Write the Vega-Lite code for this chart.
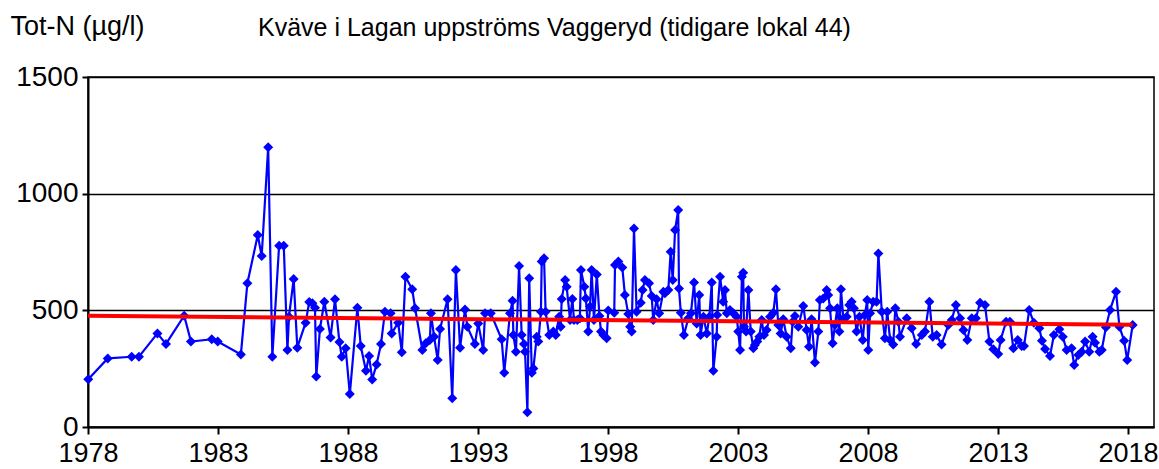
{
  "$schema": "https://vega.github.io/schema/vega-lite/v6.json",
  "autosize": "none",
  "width": 1066,
  "height": 350,
  "padding": {"left": 88, "top": 77, "right": 5, "bottom": 42},
  "background": "white",
  "config": {
    "font": "Liberation Sans",
    "view": {"stroke": "black", "strokeWidth": 1.5}
  },
  "title": {
    "text": "Kväve  i Lagan uppströms Vaggeryd (tidigare lokal 44)",
    "anchor": "start",
    "frame": "group",
    "dx": 170,
    "offset": -29,
    "fontSize": 25,
    "fontWeight": "normal",
    "color": "black",
    "font": "Liberation Sans"
  },
  "datasets": {
    "obs": [
      {"year": 1978.01, "n": 205}, {"year": 1978.76, "n": 294}, {"year": 1979.68, "n": 301}, {"year": 1979.96, "n": 301},
      {"year": 1980.67, "n": 401}, {"year": 1981.0, "n": 356}, {"year": 1981.7, "n": 477}, {"year": 1981.96, "n": 366},
      {"year": 1982.76, "n": 376}, {"year": 1982.99, "n": 366}, {"year": 1983.88, "n": 311}, {"year": 1984.13, "n": 616},
      {"year": 1984.53, "n": 823}, {"year": 1984.68, "n": 733}, {"year": 1984.93, "n": 1199}, {"year": 1985.09, "n": 301},
      {"year": 1985.35, "n": 777}, {"year": 1985.53, "n": 777}, {"year": 1985.67, "n": 330}, {"year": 1985.73, "n": 473},
      {"year": 1985.91, "n": 634}, {"year": 1986.05, "n": 340}, {"year": 1986.37, "n": 447}, {"year": 1986.51, "n": 536},
      {"year": 1986.63, "n": 530}, {"year": 1986.73, "n": 511}, {"year": 1986.78, "n": 216}, {"year": 1986.92, "n": 420},
      {"year": 1987.09, "n": 537}, {"year": 1987.33, "n": 384}, {"year": 1987.5, "n": 547}, {"year": 1987.67, "n": 364},
      {"year": 1987.76, "n": 301}, {"year": 1987.91, "n": 337}, {"year": 1988.07, "n": 141}, {"year": 1988.36, "n": 511},
      {"year": 1988.49, "n": 347}, {"year": 1988.69, "n": 241}, {"year": 1988.81, "n": 304}, {"year": 1988.93, "n": 204},
      {"year": 1989.1, "n": 268}, {"year": 1989.27, "n": 356}, {"year": 1989.42, "n": 494}, {"year": 1989.64, "n": 487},
      {"year": 1989.68, "n": 401}, {"year": 1989.93, "n": 447}, {"year": 1990.07, "n": 320}, {"year": 1990.21, "n": 644},
      {"year": 1990.47, "n": 590}, {"year": 1990.58, "n": 509}, {"year": 1990.86, "n": 330}, {"year": 1990.99, "n": 359},
      {"year": 1991.15, "n": 373}, {"year": 1991.19, "n": 487}, {"year": 1991.31, "n": 387}, {"year": 1991.45, "n": 287},
      {"year": 1991.54, "n": 420}, {"year": 1991.83, "n": 547}, {"year": 1992.01, "n": 123}, {"year": 1992.15, "n": 673},
      {"year": 1992.31, "n": 340}, {"year": 1992.5, "n": 504}, {"year": 1992.59, "n": 430}, {"year": 1992.88, "n": 356},
      {"year": 1993.01, "n": 444}, {"year": 1993.2, "n": 330}, {"year": 1993.27, "n": 487}, {"year": 1993.49, "n": 487},
      {"year": 1993.91, "n": 376}, {"year": 1994.01, "n": 233}, {"year": 1994.23, "n": 487}, {"year": 1994.33, "n": 541},
      {"year": 1994.36, "n": 394}, {"year": 1994.46, "n": 323}, {"year": 1994.58, "n": 690}, {"year": 1994.68, "n": 394},
      {"year": 1994.77, "n": 356}, {"year": 1994.81, "n": 323}, {"year": 1994.9, "n": 63}, {"year": 1994.97, "n": 637},
      {"year": 1995.07, "n": 233}, {"year": 1995.13, "n": 251}, {"year": 1995.26, "n": 387}, {"year": 1995.32, "n": 366},
      {"year": 1995.42, "n": 494}, {"year": 1995.45, "n": 709}, {"year": 1995.54, "n": 723}, {"year": 1995.6, "n": 494},
      {"year": 1995.74, "n": 394}, {"year": 1995.9, "n": 409}, {"year": 1995.99, "n": 394}, {"year": 1996.12, "n": 473},
      {"year": 1996.18, "n": 430}, {"year": 1996.22, "n": 549}, {"year": 1996.35, "n": 630}, {"year": 1996.41, "n": 601},
      {"year": 1996.54, "n": 459}, {"year": 1996.63, "n": 549}, {"year": 1996.69, "n": 459}, {"year": 1996.82, "n": 459},
      {"year": 1996.92, "n": 466}, {"year": 1996.96, "n": 673}, {"year": 1997.09, "n": 601}, {"year": 1997.15, "n": 551},
      {"year": 1997.24, "n": 409}, {"year": 1997.31, "n": 516}, {"year": 1997.37, "n": 673}, {"year": 1997.46, "n": 459},
      {"year": 1997.57, "n": 654}, {"year": 1997.67, "n": 476}, {"year": 1997.73, "n": 409}, {"year": 1997.82, "n": 394},
      {"year": 1997.95, "n": 380}, {"year": 1998.01, "n": 499}, {"year": 1998.24, "n": 490}, {"year": 1998.27, "n": 694},
      {"year": 1998.4, "n": 709}, {"year": 1998.55, "n": 684}, {"year": 1998.65, "n": 566}, {"year": 1998.78, "n": 484},
      {"year": 1998.85, "n": 430}, {"year": 1998.91, "n": 409}, {"year": 1999.0, "n": 851}, {"year": 1999.1, "n": 494},
      {"year": 1999.26, "n": 533}, {"year": 1999.33, "n": 587}, {"year": 1999.42, "n": 630}, {"year": 1999.58, "n": 616},
      {"year": 1999.68, "n": 561}, {"year": 1999.74, "n": 459}, {"year": 1999.87, "n": 547}, {"year": 1999.97, "n": 487},
      {"year": 2000.13, "n": 580}, {"year": 2000.19, "n": 573}, {"year": 2000.32, "n": 587}, {"year": 2000.41, "n": 751},
      {"year": 2000.49, "n": 630}, {"year": 2000.58, "n": 844}, {"year": 2000.7, "n": 930}, {"year": 2000.73, "n": 594},
      {"year": 2000.8, "n": 490}, {"year": 2000.92, "n": 394}, {"year": 2001.09, "n": 466}, {"year": 2001.19, "n": 487},
      {"year": 2001.31, "n": 619}, {"year": 2001.41, "n": 444}, {"year": 2001.51, "n": 566}, {"year": 2001.56, "n": 394},
      {"year": 2001.67, "n": 473}, {"year": 2001.8, "n": 401}, {"year": 2001.9, "n": 473}, {"year": 2001.99, "n": 619},
      {"year": 2002.05, "n": 241}, {"year": 2002.18, "n": 387}, {"year": 2002.2, "n": 480}, {"year": 2002.31, "n": 644},
      {"year": 2002.43, "n": 537}, {"year": 2002.5, "n": 587}, {"year": 2002.57, "n": 487}, {"year": 2002.69, "n": 501},
      {"year": 2002.82, "n": 487}, {"year": 2002.95, "n": 473}, {"year": 2003.01, "n": 409}, {"year": 2003.08, "n": 330},
      {"year": 2003.15, "n": 644}, {"year": 2003.2, "n": 661}, {"year": 2003.23, "n": 430}, {"year": 2003.31, "n": 409},
      {"year": 2003.4, "n": 587}, {"year": 2003.49, "n": 409}, {"year": 2003.59, "n": 337}, {"year": 2003.65, "n": 351},
      {"year": 2003.74, "n": 366}, {"year": 2003.82, "n": 387}, {"year": 2003.91, "n": 459}, {"year": 2004.0, "n": 394},
      {"year": 2004.1, "n": 416}, {"year": 2004.23, "n": 473}, {"year": 2004.36, "n": 490}, {"year": 2004.46, "n": 590},
      {"year": 2004.55, "n": 437}, {"year": 2004.64, "n": 401}, {"year": 2004.74, "n": 462}, {"year": 2004.87, "n": 387},
      {"year": 2005.03, "n": 337}, {"year": 2005.1, "n": 451}, {"year": 2005.19, "n": 476}, {"year": 2005.32, "n": 430},
      {"year": 2005.51, "n": 519}, {"year": 2005.64, "n": 416}, {"year": 2005.73, "n": 344}, {"year": 2005.83, "n": 462},
      {"year": 2005.96, "n": 276}, {"year": 2006.09, "n": 409}, {"year": 2006.15, "n": 544}, {"year": 2006.28, "n": 551},
      {"year": 2006.41, "n": 587}, {"year": 2006.47, "n": 566}, {"year": 2006.54, "n": 509}, {"year": 2006.64, "n": 359},
      {"year": 2006.73, "n": 437}, {"year": 2006.82, "n": 509}, {"year": 2006.9, "n": 409}, {"year": 2006.96, "n": 590},
      {"year": 2007.05, "n": 466}, {"year": 2007.18, "n": 473}, {"year": 2007.28, "n": 523}, {"year": 2007.37, "n": 537},
      {"year": 2007.46, "n": 509}, {"year": 2007.56, "n": 409}, {"year": 2007.67, "n": 473}, {"year": 2007.8, "n": 373},
      {"year": 2007.88, "n": 480}, {"year": 2007.97, "n": 544}, {"year": 2008.01, "n": 330}, {"year": 2008.08, "n": 487},
      {"year": 2008.2, "n": 537}, {"year": 2008.33, "n": 537}, {"year": 2008.4, "n": 744}, {"year": 2008.53, "n": 494},
      {"year": 2008.65, "n": 380}, {"year": 2008.74, "n": 494}, {"year": 2008.85, "n": 373}, {"year": 2008.97, "n": 354},
      {"year": 2009.05, "n": 509}, {"year": 2009.17, "n": 451}, {"year": 2009.23, "n": 387}, {"year": 2009.49, "n": 466},
      {"year": 2009.68, "n": 423}, {"year": 2009.85, "n": 356}, {"year": 2010.07, "n": 394}, {"year": 2010.19, "n": 409},
      {"year": 2010.36, "n": 537}, {"year": 2010.49, "n": 387}, {"year": 2010.64, "n": 394}, {"year": 2010.83, "n": 354},
      {"year": 2011.09, "n": 437}, {"year": 2011.22, "n": 459}, {"year": 2011.38, "n": 523}, {"year": 2011.54, "n": 466},
      {"year": 2011.67, "n": 416}, {"year": 2011.82, "n": 373}, {"year": 2011.99, "n": 466}, {"year": 2012.15, "n": 466},
      {"year": 2012.31, "n": 533}, {"year": 2012.5, "n": 523}, {"year": 2012.67, "n": 366}, {"year": 2012.82, "n": 333},
      {"year": 2013.01, "n": 313}, {"year": 2013.1, "n": 373}, {"year": 2013.31, "n": 451}, {"year": 2013.46, "n": 451},
      {"year": 2013.59, "n": 337}, {"year": 2013.76, "n": 373}, {"year": 2013.91, "n": 347}, {"year": 2014.0, "n": 347},
      {"year": 2014.2, "n": 501}, {"year": 2014.38, "n": 447}, {"year": 2014.59, "n": 423}, {"year": 2014.69, "n": 370},
      {"year": 2014.81, "n": 334}, {"year": 2015.0, "n": 304}, {"year": 2015.15, "n": 394}, {"year": 2015.36, "n": 419},
      {"year": 2015.49, "n": 387}, {"year": 2015.64, "n": 330}, {"year": 2015.83, "n": 337}, {"year": 2015.93, "n": 266},
      {"year": 2016.09, "n": 309}, {"year": 2016.22, "n": 323}, {"year": 2016.35, "n": 366}, {"year": 2016.51, "n": 323},
      {"year": 2016.64, "n": 387}, {"year": 2016.73, "n": 361}, {"year": 2016.9, "n": 323}, {"year": 2016.99, "n": 330},
      {"year": 2017.15, "n": 427}, {"year": 2017.31, "n": 501}, {"year": 2017.54, "n": 580}, {"year": 2017.67, "n": 430},
      {"year": 2017.85, "n": 370}, {"year": 2017.97, "n": 287}, {"year": 2018.18, "n": 437}
    ],
    "trend": [
      {"year": 1978.0, "n": 477},
      {"year": 2018.18, "n": 438}
    ]
  },
  "layer": [
    {
      "data": {"name": "obs"},
      "mark": {"type": "line", "color": "#0000FF", "strokeWidth": 2.2},
      "encoding": {
        "x": {
          "field": "year", "type": "quantitative",
          "scale": {"domain": [1978, 2019], "nice": false, "zero": false},
          "axis": {
            "title": null,
            "values": [1978, 1983, 1988, 1993, 1998, 2003, 2008, 2013, 2018],
            "format": "d",
            "grid": false,
            "labelFlush": false,
            "labelOverlap": false,
            "domainColor": "black", "domainWidth": 2,
            "tickColor": "black", "tickWidth": 2, "tickSize": 7,
            "labelFontSize": 27, "labelColor": "black", "labelPadding": 6,
            "labelFont": "Liberation Sans"
          }
        },
        "y": {
          "field": "n", "type": "quantitative",
          "scale": {"domain": [0, 1500], "nice": false},
          "axis": {
            "title": "Tot-N (µg/l)",
            "titleAngle": 0,
            "titleAlign": "left",
            "titleBaseline": "alphabetic",
            "titleX": -78,
            "titleY": -43,
            "titleFontSize": 27,
            "titleFontWeight": "normal",
            "titleColor": "black",
            "titleFont": "Liberation Sans",
            "values": [0, 500, 1000, 1500],
            "format": "d",
            "labelOverlap": false,
            "grid": true, "gridColor": "black", "gridWidth": 1.5, "gridOpacity": 1,
            "domainColor": "black", "domainWidth": 2,
            "tickColor": "black", "tickWidth": 2, "tickSize": 6,
            "labelFontSize": 28, "labelColor": "black", "labelPadding": 4,
            "labelFont": "Liberation Sans"
          }
        }
      }
    },
    {
      "data": {"name": "obs"},
      "mark": {"type": "point", "shape": "diamond", "filled": true, "color": "#0000FF", "size": 100, "opacity": 1},
      "encoding": {
        "x": {"field": "year", "type": "quantitative"},
        "y": {"field": "n", "type": "quantitative"}
      }
    },
    {
      "data": {"name": "trend"},
      "mark": {"type": "line", "color": "#FF0000", "strokeWidth": 4},
      "encoding": {
        "x": {"field": "year", "type": "quantitative"},
        "y": {"field": "n", "type": "quantitative"}
      }
    }
  ]
}
